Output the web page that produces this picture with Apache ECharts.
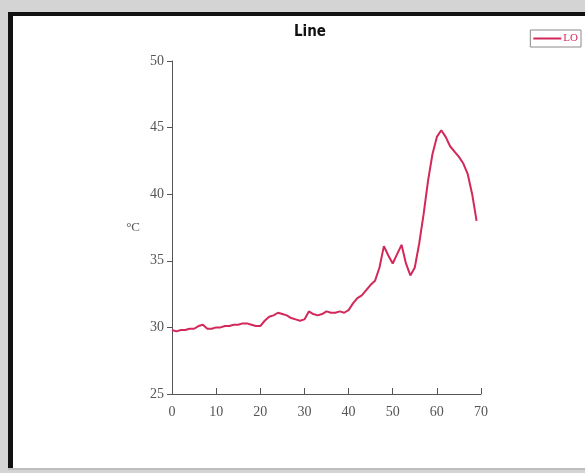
<!DOCTYPE html>
<html>
<head>
<meta charset="utf-8">
<script src="https://cdn.jsdelivr.net/npm/echarts@6/dist/echarts.min.js"></script>
<style>
  html, body { margin: 0; padding: 0; background: #d4d4d4; }
  #chart { width: 585px; height: 473px; }
</style>
</head>
<body>
<div id="chart"></div>
<script>
// Temperature trace, one sample per step
const steps = Array.from({ length: 70 }, (_, i) => i);
const temps = [
  29.8, 29.7, 29.8, 29.8, 29.9, 29.9, 30.1, 30.2, 29.9, 29.9,
  30.0, 30.0, 30.1, 30.1, 30.2, 30.2, 30.3, 30.3, 30.2, 30.1,
  30.1, 30.5, 30.8, 30.9, 31.1, 31.0, 30.9, 30.7, 30.6, 30.5,
  30.6, 31.2, 31.0, 30.9, 31.0, 31.2, 31.1, 31.1, 31.2, 31.1,
  31.3, 31.8, 32.2, 32.4, 32.8, 33.2, 33.5, 34.5, 36.1, 35.4,
  34.8, 35.5, 36.2, 34.8, 33.9, 34.5, 36.3, 38.5, 41.0, 43.0,
  44.3, 44.8, 44.3, 43.6, 43.2, 42.8, 42.3, 41.5, 40.0, 38.0
];
const xTicks = [0, 10, 20, 30, 40, 50, 60, 70];
const yTicks = [25, 30, 35, 40, 45, 50];
const seriesName = 'LO';
const chartTitle = 'Line';
const yUnit = '°C';

const chart = echarts.init(document.getElementById('chart'), null, { renderer: 'canvas' });
const tickFont = { fontFamily: 'Liberation Serif', fontSize: 14, color: '#555' };

chart.setOption({
  backgroundColor: '#d4d4d4',
  animation: false,
  graphic: [
    // white panel with a sunken frame
    { type: 'rect', z: -10, shape: { x: 8, y: 12, width: 590, height: 458 },
      style: { fill: '#ffffff' } },
    { type: 'rect', z: -9, shape: { x: 8, y: 12, width: 590, height: 4 },
      style: { fill: '#111111' } },
    { type: 'rect', z: -9, shape: { x: 8, y: 12, width: 5, height: 458 },
      style: { fill: '#111111' } },
    { type: 'rect', z: -9, shape: { x: 8, y: 468, width: 590, height: 2 },
      style: { fill: '#bdbdbd' } }
  ],
  title: {
    text: chartTitle,
    left: 305, top: 20, textAlign: 'center',
    textStyle: { fontFamily: 'DejaVu Sans Condensed', fontWeight: 'bold', fontSize: 15, color: '#111' }
  },
  legend: {
    data: [seriesName],
    right: 4, top: 30,
    orient: 'horizontal',
    icon: 'rect',
    itemWidth: 28, itemHeight: 2,
    itemGap: 2,
    padding: [3, 3, 3, 3],
    borderColor: '#8a8a8a', borderWidth: 1,
    textStyle: { fontFamily: 'Liberation Serif', fontSize: 11, color: '#d2285a', padding: [0, 0, 0, -3] }
  },
  grid: { left: 172, right: 104, top: 61, bottom: 79 },
  xAxis: {
    type: 'value', min: 0, max: 70, interval: 10,
    axisLine: { lineStyle: { color: '#555', width: 1 } },
    axisTick: { inside: true, length: 6, lineStyle: { color: '#555' } },
    axisLabel: Object.assign({ margin: 11 }, tickFont),
    splitLine: { show: false }
  },
  yAxis: {
    type: 'value', min: 25, max: 50, interval: 5,
    name: yUnit, nameLocation: 'middle', nameRotate: 0, nameGap: 32,
    nameTextStyle: { fontFamily: 'Liberation Serif', fontSize: 13, color: '#555' },
    axisLine: { show: true, lineStyle: { color: '#555', width: 1 } },
    axisTick: { show: true, length: 5, lineStyle: { color: '#555' } },
    axisLabel: Object.assign({ margin: 8 }, tickFont),
    splitLine: { show: false }
  },
  series: [{
    name: seriesName,
    type: 'line',
    data: steps.map((s, i) => [s, temps[i]]),
    showSymbol: false,
    lineStyle: { color: '#d2285a', width: 2 },
    itemStyle: { color: '#d2285a' }
  }]
});
</script>
</body>
</html>
